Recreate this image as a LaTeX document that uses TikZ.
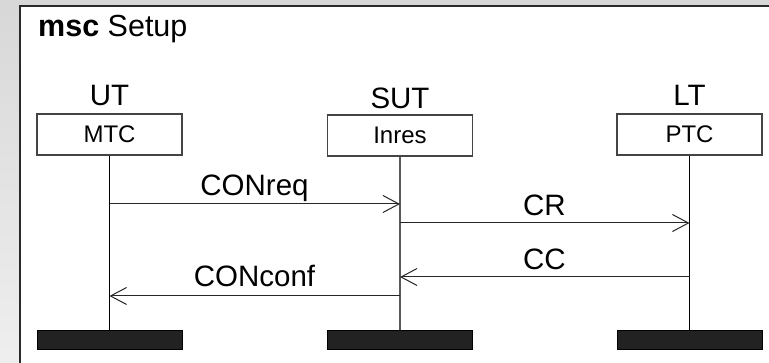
\documentclass[tikz,border=0pt]{standalone}
\usepackage{fontspec}
\setmainfont{Liberation Sans}
\usetikzlibrary{arrows.meta}
\definecolor{bgtop}{HTML}{CCCCCC}
\definecolor{bgbot}{HTML}{FAFAFA}
\definecolor{framecol}{HTML}{2A2A2A}
\definecolor{barfill}{HTML}{222222}
\definecolor{boxline}{HTML}{444444}
\pgfdeclareverticalshading{bgfade}{100bp}{color(0bp)=(bgbot); color(100bp)=(bgtop)}

\begin{document}
\begin{tikzpicture}[x=1pt,y=-1pt,
  headlbl/.style={font=\fontsize{29.5}{34}\selectfont, anchor=base, inner sep=0pt},
  instbox/.style={draw=boxline, line width=1.1pt, fill=white, minimum width=145pt,
    minimum height=41pt, inner sep=0pt, font=\fontsize{24}{28}\selectfont},
  endbar/.style={draw=black, fill=barfill, line width=1pt, minimum width=145pt,
    minimum height=19pt, inner sep=0pt},
  lifeline/.style={line width=1.2pt, draw=black},
  msg/.style={line width=1pt, draw=black!85,
    -{Straight Barb[length=16pt,width=17pt,line width=1pt]}},
  msglbl/.style={font=\fontsize{29.5}{34}\selectfont, anchor=base, inner sep=0pt}
]
\useasboundingbox (0,0) rectangle (769,363);

% backdrop and diagram frame
\shade[shading=bgfade] (0,0) rectangle (769,363);
\fill[white] (19.5,6) rectangle (780,370);
\draw[framecol, line width=2pt] (19.5,370) -- (19.5,6) -- (780,6);

% title
\node[anchor=base west, inner sep=0pt, font=\fontsize{30.5}{35}\selectfont] (title)
  at (38,37) {\textbf{msc} Setup};

% instance names
\node[headlbl] (ut)  at (109.5,106) {UT};
\node[headlbl] (sut) at (400,109)   {SUT};
\node[headlbl] (lt)  at (689.5,106) {LT};

% instance heads
\node[instbox] (mtc)   at (109.5,134.5) {MTC};
\node[instbox] (inres) at (400,135.5)   {\raisebox{-2pt}{Inres}};
\node[instbox] (ptc)   at (689.5,134.5) {PTC};

% instance ends
\node[endbar] (endut)  at (109.5,340.5) {};
\node[endbar] (endsut) at (400,340.5)   {};
\node[endbar] (endlt)  at (689.5,340.5) {};

% lifelines
\draw[lifeline] (mtc.south)   -- (endut.north);
\draw[lifeline, draw=black!65] (inres.south) -- (endsut.north);
\draw[lifeline] (ptc.south)   -- (endlt.north);

% message end points on the lifelines
\coordinate (reqs) at (mtc.south |- 0,204);
\coordinate (reqr) at (inres.south |- 0,204);
\coordinate (crs)  at (inres.south |- 0,223);
\coordinate (crr)  at (ptc.south |- 0,223);
\coordinate (ccs)  at (ptc.south |- 0,277);
\coordinate (ccr)  at (inres.south |- 0,277);
\coordinate (cfs)  at (inres.south |- 0,296);
\coordinate (cfr)  at (mtc.south |- 0,296);

% messages
\draw[msg] (reqs) -- (reqr);
\draw[msg] (crs) -- (crr);
\draw[msg] (ccs) -- (ccr);
\draw[msg] (cfs) -- (cfr);

% message names
\node[msglbl] (lreq)  at (254.5,196) {CONreq};
\node[msglbl] (lcr)   at (544.5,216) {CR};
\node[msglbl] (lcc)   at (544.5,270) {CC};
\node[msglbl] (lconf) at (254.5,287) {CONconf};
\end{tikzpicture}
\end{document}
